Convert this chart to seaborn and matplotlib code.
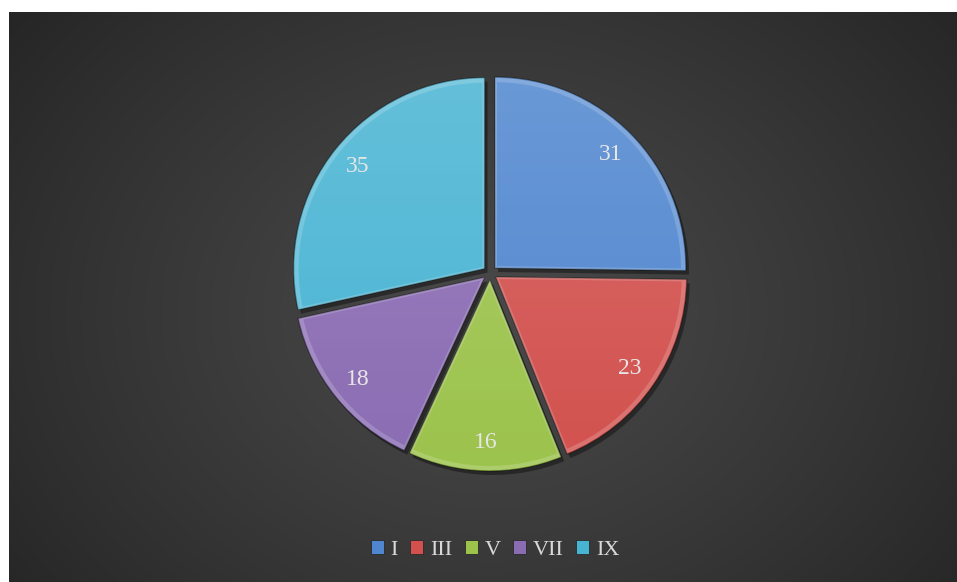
import numpy as np
import matplotlib
matplotlib.use("Agg")
import matplotlib.pyplot as plt
import seaborn as sns
from matplotlib.patches import Rectangle, Wedge

categories = ["I", "III", "V", "VII", "IX"]
values = [31, 23, 16, 18, 35]
colors = ["#4f86cf", "#d2514e", "#9cc34c", "#8a6cb3", "#48b4d3"]

sns.set_theme(style="white")
plt.rcParams['font.family'] = ['Liberation Serif', 'DejaVu Serif']

W, H = 957, 582
fig = plt.figure(figsize=(W / 100, H / 100), dpi=100, facecolor="white")

# background with radial gradient
bg = fig.add_axes([9 / W, 0, 1 - 9 / W, 1 - 12 / H])
bg.set_axis_off()
yy, xx = np.mgrid[0:570, 0:948]
cx, cy = 480, 300
d = np.sqrt(((xx - cx) / 600.0) ** 2 + ((yy - cy) / 480.0) ** 2)
d = np.clip(d, 0, 1)
lo, hi = 0.15, 0.285
val = hi - (hi - lo) * d ** 1.2
img = np.dstack([val, val, val])
bg.imshow(img, aspect="auto", interpolation="bilinear")

ax = fig.add_axes([0, 0, 1, 1])
ax.set_xlim(0, W)
ax.set_ylim(0, H)
ax.set_axis_off()
ax.patch.set_alpha(0)

center = (490, H - 273)
radius = 191
explode = [7] * len(values)   # offset in axis units (px)

# shadow
sw, _ = ax.pie(values, colors=["#111111"] * 5, startangle=90, counterclock=False,
               radius=radius, center=(center[0] + 3, center[1] - 4), explode=explode,
               wedgeprops=dict(linewidth=0, alpha=0.5))
for w in sw:
    w.set_zorder(1)

total = sum(values)
wedges, _, autotexts = ax.pie(
    values, colors=colors, startangle=90, counterclock=False,
    radius=radius, center=center, explode=explode,
    autopct=lambda p: f"{p * total / 100:.0f}", pctdistance=0.85,
    wedgeprops=dict(linewidth=1.0, edgecolor=(0, 0, 0, 0.35)),
    textprops=dict(color="#e6e6e6", fontsize=17),
)
for w in wedges:
    w.set_zorder(2)
for t in autotexts:
    t.set_zorder(6)

# subtle vertical sheen over each wedge
grad = np.linspace(0.16, 0.0, 256).reshape(-1, 1)
sheen = np.zeros((256, 1, 4))
sheen[..., :3] = 1.0
sheen[..., 3] = grad
for w in wedges:
    im = ax.imshow(sheen, extent=(center[0] - radius - 20, center[0] + radius + 20,
                                  center[1] - radius - 20, center[1] + radius + 20),
                   aspect="auto", zorder=3, interpolation="bilinear", origin="upper")
    im.set_clip_path(w)

# bevel highlight rim
for w in wedges:
    rim = Wedge(w.center, w.r - 3, w.theta1, w.theta2,
                facecolor="none", edgecolor=(1, 1, 1, 0.18),
                linewidth=3, zorder=4)
    ax.add_patch(rim)
    rim.set_clip_path(w)

ax.set_xlim(0, W)
ax.set_ylim(0, H)

handles = [Rectangle((0, 0), 1, 1, facecolor=c, edgecolor="#2a2a2a", linewidth=0.6) for c in colors]
leg = ax.legend(handles, categories, loc="center", bbox_to_anchor=(495 / W, 1 - 550 / H),
                ncol=5, frameon=False, fontsize=16, labelcolor="#d9d9d9",
                handlelength=0.6, handleheight=0.6, handletextpad=0.3, columnspacing=0.55)

fig.savefig("out.png", dpi=100, facecolor="white")
